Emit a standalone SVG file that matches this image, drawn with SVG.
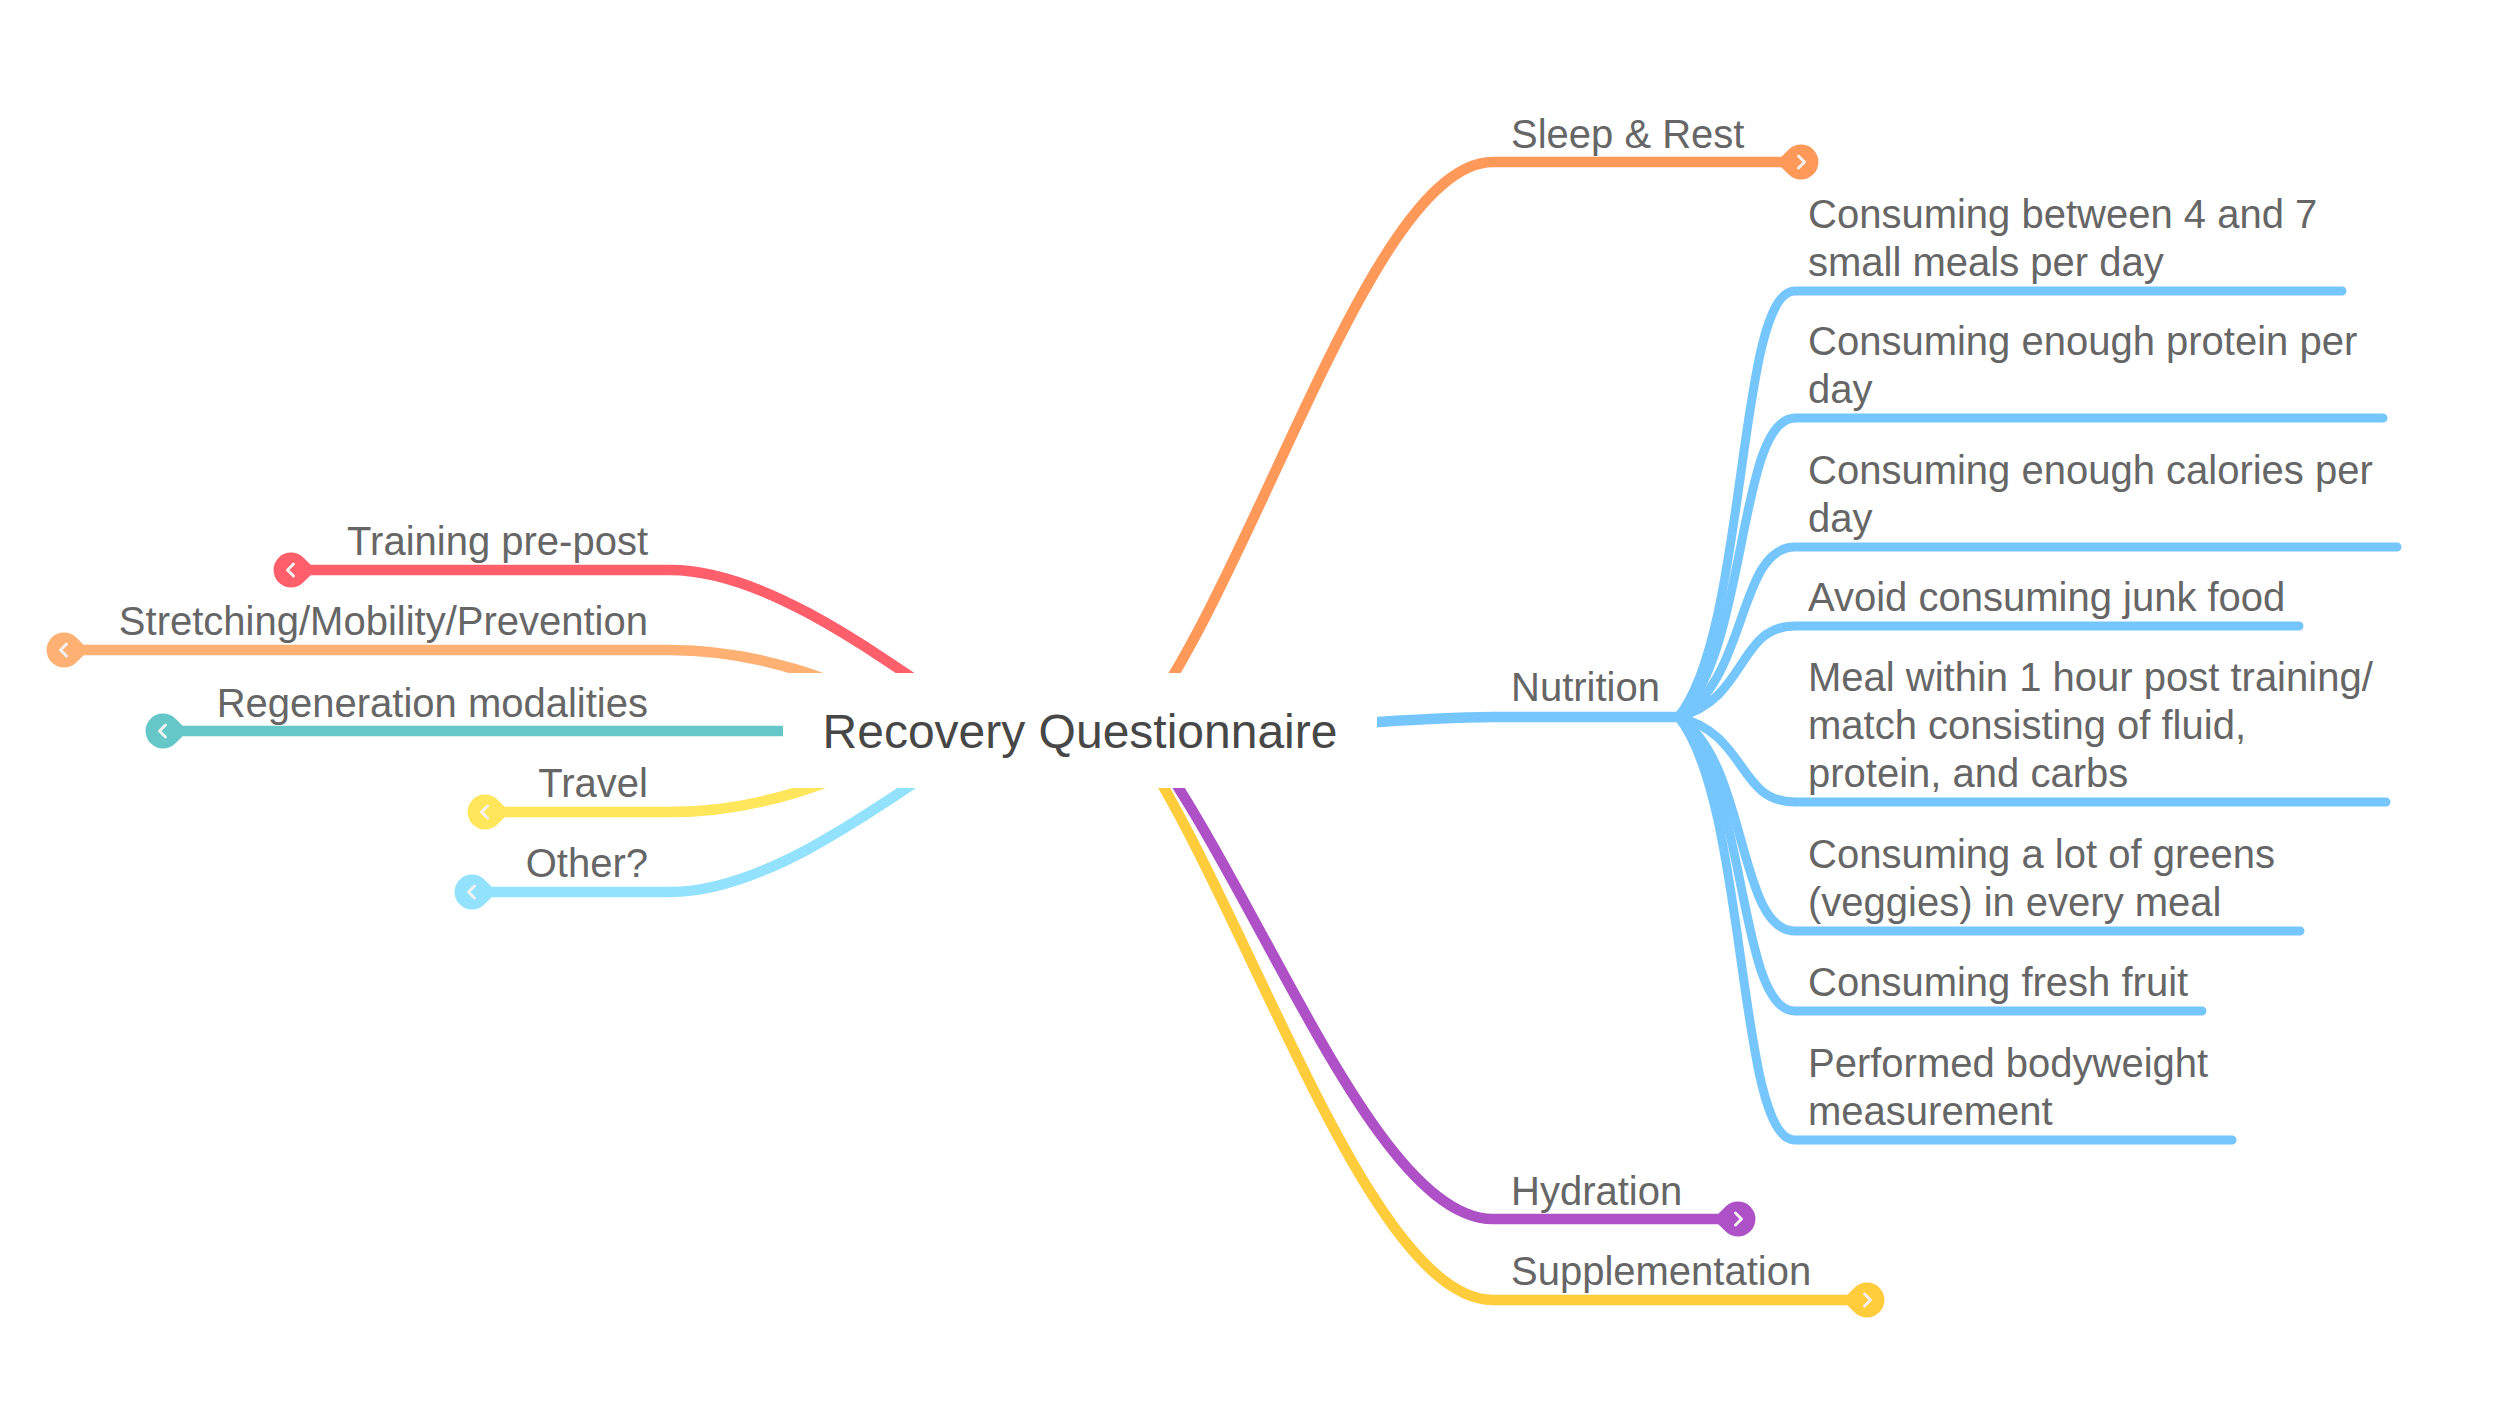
<svg xmlns="http://www.w3.org/2000/svg" xmlns:xlink="http://www.w3.org/1999/xlink" width="2504" height="1406" viewBox="0 0 2504 1406">
<style>
  .lbl { font-family: "Liberation Sans", Arial, Helvetica, sans-serif; font-size: 40px; fill: #666666; }
  .center { font-family: "Liberation Sans", Arial, Helvetica, sans-serif; font-size: 48px; fill: #474747; }
  .main { fill: none; stroke-width: 10.5; stroke-linecap: butt; }
  .child { fill: none; stroke: #76c6fe; stroke-width: 9; stroke-linecap: round; }
  .chev { fill: none; stroke: #f2f2f2; stroke-width: 3; stroke-linecap: round; stroke-linejoin: round; }
</style>
<defs>
  <path id="tear" d="M25 0 L12.3 -12.5 A17.5 17.5 0 1 0 12.3 12.5 Z"/>
  <polyline id="chevL" class="chev" points="2.5,-6 -3.5,0 2.5,6"/>
  <polyline id="chevR" class="chev" points="-2.5,-6 3.5,0 -2.5,6"/>
</defs>
<rect width="2504" height="1406" fill="#ffffff"/>

<g id="connectors">
  <!-- left side -->
  <path class="main" stroke="#ff5f6b" d="M1010 745 C885 660 770 570 670 570 L300 570"/>
  <path class="main" stroke="#ffb173" d="M910 715 C835 680 760 650 670 650 L75 650"/>
  <path class="main" stroke="#66c7c8" d="M1000 731 L175 731"/>
  <path class="main" stroke="#ffe65a" d="M910 747 C835 782 760 812 670 812 L495 812"/>
  <path class="main" stroke="#93e2fd" d="M1010 717 C885 802 770 892 670 892 L480 892"/>
  <!-- right side -->
  <path class="main" stroke="#ff995a" d="M1125 745 C1250 600 1368 162 1493 162 L1782 162"/>
  <path class="main" stroke="#ffcc3c" d="M1122 722 C1240 880 1365 1300 1493 1300 L1848 1300"/>
  <path class="main" stroke="#ae50c6" d="M1128 717 C1250 862 1370 1219 1493 1219 L1720 1219"/>
  <path class="main" stroke="#76c6fe" d="M1200 731 C1300 731 1400 717 1493 717 L1678 717"/>
  <!-- nutrition children -->
  <path class="child" d="M1678 717 C1748 632 1737 291 1795 291 L2342 291"/>
  <path class="child" d="M1678 717 C1748 657 1737 418 1795 418 L2383 418"/>
  <path class="child" d="M1678 717 C1748 683 1737 547 1795 547 L2397 547"/>
  <path class="child" d="M1678 717 C1748 699 1737 626 1795 626 L2299 626"/>
  <path class="child" d="M1678 717 C1748 734 1737 802 1795 802 L2386 802"/>
  <path class="child" d="M1678 717 C1748 760 1737 931 1795 931 L2300 931"/>
  <path class="child" d="M1678 717 C1748 776 1737 1011 1795 1011 L2202 1011"/>
  <path class="child" d="M1678 717 C1748 802 1737 1140 1795 1140 L2232 1140"/>
</g>

<g id="node-center">
  <rect x="783" y="673" width="594" height="115" fill="#ffffff"/>
  <text class="center" x="1080" y="748" text-anchor="middle">Recovery Questionnaire</text>
</g>

<g id="node-training">
  <text class="lbl" x="648" y="555" text-anchor="end">Training pre-post</text>
  <use xlink:href="#tear" x="291" y="570" fill="#ff5f6b"/>
  <use xlink:href="#chevL" x="291" y="570"/>
</g>
<g id="node-stretching">
  <text class="lbl" x="648" y="635" text-anchor="end">Stretching/Mobility/Prevention</text>
  <use xlink:href="#tear" x="64" y="650" fill="#ffb173"/>
  <use xlink:href="#chevL" x="64" y="650"/>
</g>
<g id="node-regeneration">
  <text class="lbl" x="648" y="717" text-anchor="end">Regeneration modalities</text>
  <use xlink:href="#tear" x="163" y="731" fill="#66c7c8"/>
  <use xlink:href="#chevL" x="163" y="731"/>
</g>
<g id="node-travel">
  <text class="lbl" x="648" y="797" text-anchor="end">Travel</text>
  <use xlink:href="#tear" x="485" y="812" fill="#ffe65a"/>
  <use xlink:href="#chevL" x="485" y="812"/>
</g>
<g id="node-other">
  <text class="lbl" x="648" y="877" text-anchor="end">Other?</text>
  <use xlink:href="#tear" x="472" y="892" fill="#93e2fd"/>
  <use xlink:href="#chevL" x="472" y="892"/>
</g>

<g id="node-sleep">
  <text class="lbl" x="1511" y="148">Sleep &amp; Rest</text>
  <use xlink:href="#tear" transform="translate(1801 162) scale(-1 1)" fill="#ff995a"/>
  <use xlink:href="#chevR" x="1801" y="162"/>
</g>
<g id="node-nutrition">
  <text class="lbl" x="1511" y="701">Nutrition</text>
</g>
<g id="node-hydration">
  <text class="lbl" x="1511" y="1205">Hydration</text>
  <use xlink:href="#tear" transform="translate(1738 1219) scale(-1 1)" fill="#ae50c6"/>
  <use xlink:href="#chevR" x="1738" y="1219"/>
</g>
<g id="node-supplementation">
  <text class="lbl" x="1511" y="1285">Supplementation</text>
  <use xlink:href="#tear" transform="translate(1867 1300) scale(-1 1)" fill="#ffcc3c"/>
  <use xlink:href="#chevR" x="1867" y="1300"/>
</g>

<g id="node-n1"><text class="lbl" x="1808" y="228">Consuming between 4 and 7</text><text class="lbl" x="1808" y="276">small meals per day</text></g>
<g id="node-n2"><text class="lbl" x="1808" y="355">Consuming enough protein per</text><text class="lbl" x="1808" y="403">day</text></g>
<g id="node-n3"><text class="lbl" x="1808" y="484">Consuming enough calories per</text><text class="lbl" x="1808" y="532">day</text></g>
<g id="node-n4"><text class="lbl" x="1808" y="611">Avoid consuming junk food</text></g>
<g id="node-n5"><text class="lbl" x="1808" y="691">Meal within 1 hour post training/</text><text class="lbl" x="1808" y="739">match consisting of fluid,</text><text class="lbl" x="1808" y="787">protein, and carbs</text></g>
<g id="node-n6"><text class="lbl" x="1808" y="868">Consuming a lot of greens</text><text class="lbl" x="1808" y="916">(veggies) in every meal</text></g>
<g id="node-n7"><text class="lbl" x="1808" y="996">Consuming fresh fruit</text></g>
<g id="node-n8"><text class="lbl" x="1808" y="1077">Performed bodyweight</text><text class="lbl" x="1808" y="1125">measurement</text></g>
</svg>
